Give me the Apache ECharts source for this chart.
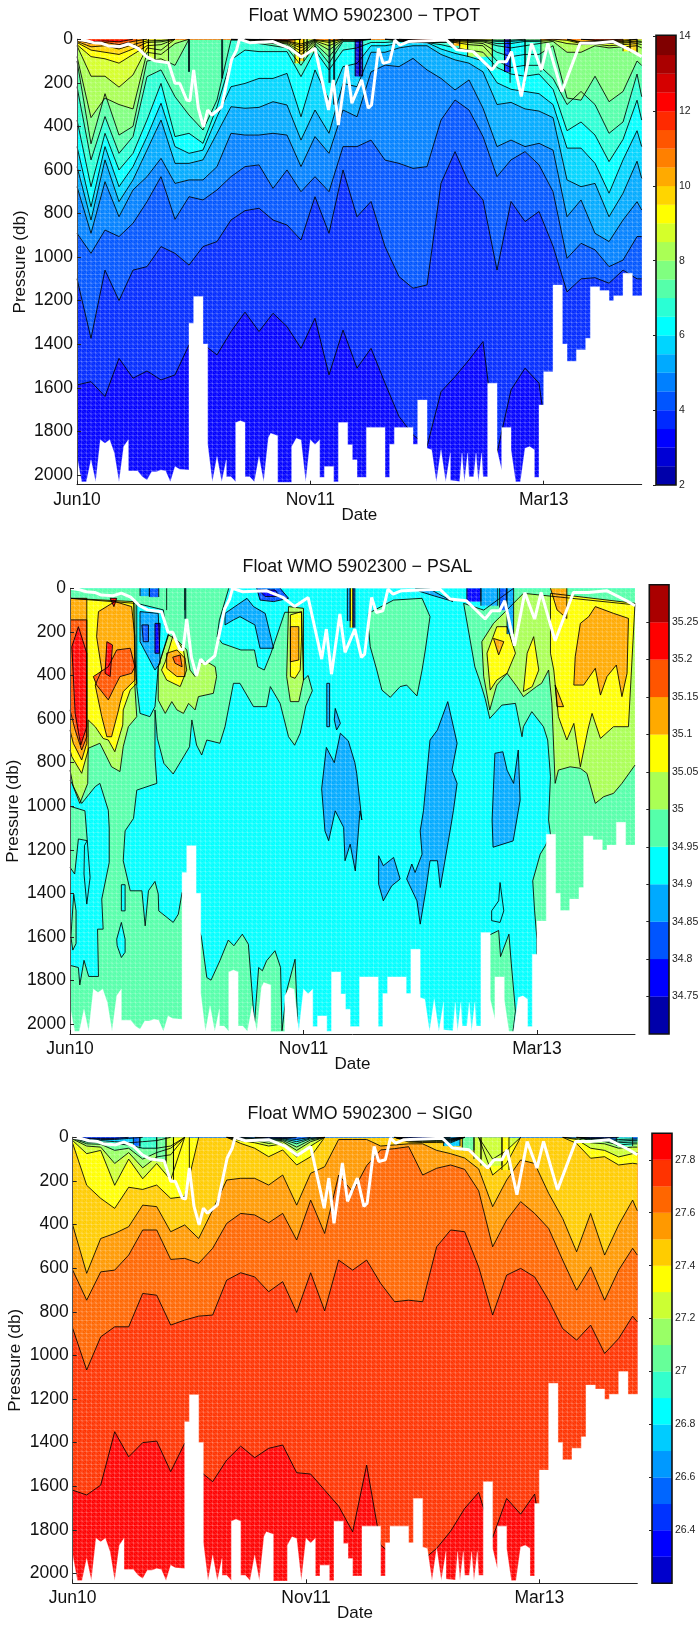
<!DOCTYPE html>
<html><head><meta charset="utf-8">
<style>html,body{margin:0;padding:0;background:#fff}#c{width:698px;height:1626px}</style>
<script src="https://cdn.jsdelivr.net/npm/echarts@6/dist/echarts.min.js"></script>
</head><body><div id="c"></div>
<script>
// ---------- shared data ----------
const xTickAt = [0, 50, 100];
const xTickLabels = ['Jun10', 'Nov11', 'Mar13'];
const yTicks = [0, 200, 400, 600, 800, 1000, 1200, 1400, 1600, 1800, 2000];
const profileGrid = [1,4,7,10,13,16,19,22,25,28,31,34,37,40,43,46,49,52,55,58,61,64,67,70,73,76,79,82,85,88,91,94,97,100,103,106,109,112,115,118,121,122];
const mldProfile = [1,3.1,4.5,6.3,7.7,10.2,12,14.1,15.9,17.6,20.6,22,23,24.5,25.2,26,27,28.1,29,29.9,32,34.1,35.2,35.8,38,43,46.6,49.1,52,54.9,55.9,57,58.8,59.9,62,63.4,64.1,65.6,66.6,68,69.1,70.2,72,80.2,82.4,85.9,89.9,91.3,93,94.1,96.2,98.4,100.5,101.9,104.9,108.8,112,115.9,120.2,122];
const mldPressure = [0,7,16,19,31,34,22,42,80,99,108,202,202,279,283,141,317,402,325,348,310,95,49,0,16,11,42,83,42,325,187,394,118,294,187,317,302,42,111,103,4,27,11,4,49,57,141,103,103,57,263,19,141,19,241,19,19,11,57,80];
const bottomEdge = [1,1916,2,2032,3,2032,4,1931,5,2032,6,1839,7,1855,8,1839,9,1900,10,2032,11,1870,12,1839,12,1982,14,1982,15,2008,16,2023,17,1985,18,1985,19,1977,20,1982,21,2032,22,1962,23,1974,25,1977,25,1304,26,1304,26,1181,28,1181,28,1399,29,1399,29,1858,30,2032,31,1916,32,2032,33,1931,33,2008,34,2008,35,2032,35,1760,36,1751,37,1760,37,2008,38,2008,39,2032,40,1916,41,2032,42,1830,42.5,1809,44,1820,44,2034,47,2034,47,1870,48,1832,49,1840,50,2032,51,1839,52,1860,53,1839,53,2011,54,2011,54,1962,56,1962,56,2032,57,2032,57,1760,59,1760,59,1862,60,1862,60,1931,61,1931,61,2011,63,2011,63,1783,67,1783,67,2011,68,2011,68,1859,69,1859,69,1783,73,1783,73,1859,74,1859,74,1656,76,1656,76,1878,77,1885,78,2032,79,1885,80,2032,81,1900,81,2025,83,2030,83.5,1900,84,2032,84.7,1900,85,2008,86,2008,86.5,1900,87,2032,87.7,1900,88,2008,89,2008,89,1579,91,1579,91,1885,92,1977,92,1783,94,1783,94,1885,95,2032,96,2032,97,1878,98,1870,99,1885,99,2011,100,2011,100,1679,101,1679,101,1526,103,1526,103,1128,105,1128,105,1399,106,1399,106,1478,108,1478,108,1426,110,1426,110,1373,111,1373,111,1136,113,1136,113,1154,115,1154,115,1201,116,1201,116,1178,118,1178,118,1074,120,1074,120,1178,122,1178];

// ---------- TPOT ----------
const tpotColors = ['#0000AA','#0000D5','#0000FF','#002AFF','#0055FF','#0080FF','#00AAFF','#00D5FF','#00FFFF','#2AFFD5','#55FFAA','#80FF80','#AAFF55','#D5FF2A','#FFFF00','#FFD500','#FFAA00','#FF8000','#FF5500','#FF2A00','#FF0000','#D50000','#AA0000','#800000'];
const tpotBarTicks = [2,4,6,8,10,12,14];
const tpot35 = [1587,1572,1640,1465,1556,1523,1564,1541,1403,1400,1449,1342,1253,1342,1258,1319,1419,1281,1541,1335,1510,1419,1579,1732,1816,1870,1618,1549,1472,1388,1900,1610,1510,1579,2045,2045,2045,2045,2045,2045,2045,2045];
const tpot40 = [1100,1373,1060,1200,1060,1044,952,983,1037,952,929,830,787,776,830,853,922,723,891,600,815,745,952,1090,1143,1128,661,516,661,738,1060,745,837,791,950,1160,1100,1095,1120,1060,1100,1100];
const tpot45 = [891,983,876,906,845,746,631,827,723,738,692,631,585,577,685,600,700,631,700,493,493,463,555,570,593,585,371,279,325,447,631,554,516,577,700,1006,937,967,1044,1014,906,906];
const tpot50 = [677,891,654,815,692,631,547,662,646,646,585,432,440,440,432,440,585,447,524,325,356,150,119,126,88,141,180,233,187,317,493,463,493,478,509,815,738,891,929,830,746,784];
const tpot55 = [585,830,554,746,646,509,371,570,570,554,432,310,317,313,287,302,463,325,432,203,218,60,60,40,30,30,70,95,110,150,300,290,320,330,360,646,677,662,815,707,560,639];
const tpot60 = [493,769,493,677,585,447,294,493,524,509,356,218,203,180,180,157,356,141,279,126,111,30,30,20,15,15,45,65,80,100,200,230,240,250,300,500,500,570,707,554,420,493];
const tpot65 = [371,677,432,600,524,371,203,447,432,478,310,95,50,57,57,57,172,50,141,50,40,15,15,10,14,16,25,40,50,60,130,160,170,160,230,420,380,440,562,460,280,371];
const tpot70 = [218,554,355,524,447,172,141,264,348,417,279,4,5,20,30,40,120,30,110,10,10,0,0,8,13,15,15,15,25,30,100,130,120,120,180,300,240,300,432,380,160,264];
const tpot75 = [100,480,250,440,400,100,90,120,0,0,0,0,3,12,20,30,90,20,80,5,5,0,0,6,11,13,13,10,15,20,60,80,70,70,30,270,280,170,287,240,100,120];
const tpot80 = [80,360,270,300,320,60,70,20,0,0,0,0,2,8,15,22,70,12,50,3,3,0,0,4,10,12,12,6,10,12,30,40,30,20,10,60,60,30,40,35,30,40];
const tpot85 = [30,170,170,220,164,40,50,0,0,0,0,0,1,5,12,18,55,8,30,2,2,0,0,3,9,11,11,4,6,8,20,20,10,10,5,20,25,22,30,25,20,25];
const tpot90 = [25,80,90,110,70,30,25,0,0,0,0,0,0,4,9,14,40,5,15,0,0,0,0,2,8,10,10,2,4,5,10,10,5,5,0,5,20,16,20,18,12,15];
const tpot95 = [15,50,60,70,45,15,12,0,0,0,0,0,0,3,7,10,30,3,8,0,0,0,0,1,7,9,9,1,2,3,5,5,0,0,0,0,16,13,16,14,8,10];
const tpot100 = [10,35,30,45,25,8,6,0,0,0,0,0,0,2,6,8,22,0,0,0,0,0,0,0,6,8,8,0,0,0,0,0,0,0,0,0,12,10,12,10,0,0];
const tpot110 = [5,20,15,25,10,0,0,0,0,0,0,0,0,1,4,6,0,0,0,0,0,0,0,0,4,6,5,0,0,0,0,0,0,0,0,0,0,6,7,5,0,0];
const tpot120 = [0,12,8,12,0,0,0,0,0,0,0,0,0,0,2,3,0,0,0,0,0,0,0,0,2,3,2,0,0,0,0,0,0,0,0,0,0,3,3,0,0,0];
const tpotStripes = [[13.8,15.2,45,16],[15.2,16.3,60,14],[16.3,17.7,90,13],[17.7,20.6,100,12],[24.9,25.1,150,8],[32,32.2,180,8],[47.7,48.7,110,14],[48.7,49.6,100,15],[49.6,50.3,80,13],[50.3,52,60,12],[55,55.2,200,6],[56,56.2,300,6],[60.6,61.6,170,1],[61.6,62.2,170,0],[81.6,83,30,16],[83,84.7,45,14],[84.7,90,80,12],[90,92.6,140,9],[92.6,93.8,150,3],[93.8,97,200,8],[97,100.4,150,9],[118,119.5,55,14],[119.5,121,60,15],[121,122,70,12]];

// ---------- SIG0 ----------
const sigColors = ['#0000CC','#0000FF','#0033FF','#0066FF','#0099FF','#00CCFF','#00FFFF','#33FFCC','#66FF99','#99FF66','#CCFF33','#FFFF00','#FFCC00','#FF9900','#FF6600','#FF3300','#FF0000'];
const sigBarTicks = [26.4,26.6,26.8,27,27.2,27.4,27.6,27.8];
const sig78 = [1618,1640,1595,1350,1465,1400,1393,1533,1403,1526,1579,1480,1416,1469,1426,1411,1538,1544,1618,1691,1809,1503,1870,1923,1939,1939,1885,1806,1702,1628,1835,1656,1728,1636,2045,2045,2045,2045,2045,2045,2045,2045];
const sig77 = [876,1067,915,869,869,716,724,861,838,820,815,655,621,640,708,662,803,621,796,563,609,563,670,754,747,754,502,425,433,594,815,632,601,640,747,877,930,861,991,923,820,846];
const sig76 = [609,747,617,609,540,425,425,560,555,578,509,395,349,356,392,349,471,288,441,173,250,130,58,52,43,173,142,127,147,245,502,379,295,349,418,563,701,594,747,609,509,540];
const sig75 = [402,624,464,441,410,311,318,433,402,464,334,196,188,188,219,173,311,165,135,10,10,10,40,35,30,30,60,75,95,145,318,196,104,120,257,372,525,349,540,402,288,337];
const sig74 = [28,220,280,326,229,239,219,280,272,0,0,0,28,50,89,58,127,89,0,0,0,0,0,0,22,24,24,25,0,0,173,119,0,0,0,0,28,96,89,127,119,122];
const sig73 = [15,75,60,220,100,190,120,195,0,0,0,0,15,25,40,30,90,40,0,0,0,0,0,0,18,20,20,20,0,0,100,60,0,0,0,0,10,50,60,90,75,70];
const sig72 = [8,40,45,120,70,140,90,80,0,0,0,0,8,15,28,20,60,20,0,0,0,0,0,0,15,16,16,16,0,0,0,0,0,0,0,0,5,25,30,50,45,45];
const sig71 = [5,30,32,60,50,100,70,50,0,0,0,0,5,10,18,14,45,12,0,0,0,0,0,0,12,13,13,13,0,0,0,0,0,0,0,0,0,15,20,35,30,30];
const sig70 = [3,22,24,30,35,50,50,40,0,0,0,0,3,6,12,10,30,6,0,0,0,0,0,0,10,10,10,10,0,0,0,0,0,0,0,0,0,10,14,25,22,22];
const sig68 = [1,15,15,20,25,20,15,0,0,0,0,0,0,3,8,6,20,3,0,0,0,0,0,0,7,8,7,7,0,0,0,0,0,0,0,0,0,6,8,18,14,14];
const sig66 = [0,8,10,10,5,0,0,0,0,0,0,0,0,0,4,4,10,0,0,0,0,0,0,0,4,5,4,4,0,0,0,0,0,0,0,0,0,4,5,10,8,8];
const sig64 = [0,5,5,5,0,0,0,0,0,0,0,0,0,0,2,2,0,0,0,0,0,0,0,0,2,3,2,0,0,0,0,0,0,0,0,0,0,2,2,0,0,0];
const sigStripes = [[14,15.4,40,3],[15.4,19,50,7],[19,21,110,8],[21,22.6,150,10],[22.6,26,200,11],[80.5,84,40,5],[84.5,87,60,8],[87,88.5,100,10],[88.5,93,130,10],[93,94.5,150,11],[117.5,121,40,7]];

// ---------- PSAL ----------
const psalColors = ['#0000AA','#0000FF','#0055FF','#00AAFF','#00FFFF','#55FFAA','#AAFF55','#FFFF00','#FFAA00','#FF5500','#FF0000','#AA0000'];
const psalBarTicks = [34.75,34.8,34.85,34.9,34.95,35,35.05,35.1,35.15,35.2,35.25];
const psalGreenMain = [1,0,35,0,33,145,32.5,222,33.6,253,37.6,283,40.5,283,41.2,360,42.6,375,44,300,47,110,50.6,110,51,421,52,400,52.9,470,51.5,540,50.3,665,49.1,720,47.8,681,46,528,43.9,451,43.1,543,40.3,543,37.4,436,36,436,34.2,635,33.1,711,30.3,696,29.2,765,28.1,719,27.1,604,26.6,727,24.9,788,23.1,852,21.1,803,19.7,688,19.2,558,19.2,773,19.6,895,15.3,926,14.6,1056,12.8,1113,12.4,1250,13.9,1388,16.4,1388,17.1,1549,17.8,1388,19.2,1345,19.9,1403,20,1480,23.1,1533,24.2,1495,25,1396,29.1,1595,30.3,1786,31.2,1798,33.1,1709,34.9,1614,36.1,1640,37.9,1587,39.2,1633,40.3,1939,40.5,2000,41.4,1740,42.2,1755,43.1,1709,44.9,1663,46.1,1740,46.4,2030,47.4,1847,49.2,1702,49.7,1969,49.7,2045,1,2045,1,1730,2.8,1740,3.1,1820,4,1707,5,1781,7.1,1781,6.9,1564,8.1,1564,7.8,1426,9.4,1258,9.4,1100,9.2,1018,7.4,895,6.4,910,3.5,987,1.4,895,1,880];
const psalGreenLobe = [64.9,115,70.3,54,76.4,46,78.1,130,77.1,283,76.4,375,75.3,494,73.1,444,71.7,451,69.6,500,67.8,467,66.7,375,65.3,268,64.9,176];
const psalGreenRight = [85.3,69,89.6,100,96,0,122,0,122,2045,101,2045,101,1610,100.5,1480,100.1,1342,101.7,1220,102.8,1181,103.9,1131,103.5,1063,103.9,864,103.3,696,102.4,635,99.9,566,98.1,635,97.8,681,96.4,528,93.5,536,90.9,597,89.9,505,88.7,421,87.7,360];
const psalGreenLow = [90,1600,92.8,1570,93.2,1690,95,1587,95.5,1720,96.4,1940,95.8,2045,90,2045];
const psalGreenWest = [1,1000,4.2,1021,4.7,1158,2.8,1150,2,1311,1,1280];
const psalGreenLens = [1.4,1530,1.8,1404,2.3,1480,2.3,1630,1.6,1660,1.2,1600];
const psalCyanHole1 = [4.7,1158,5.3,1327,4.6,1449,4,1311,4.1,1180];
const psalCyanHole2 = [11,1610,12,1533,12.8,1610,12.8,1670,12,1694,11.1,1640];
const psalCyanHole3 = [12,1360,12.8,1360,12.8,1480,12,1480];
const psalCyanHole4 = [93.1,1350,93.9,1480,93.1,1533,91.3,1525,91.3,1480,92.8,1434];
const psalCyanBlob = [15.3,69,21,99,21.4,176,22.1,207,19.9,360,19.2,543,18.1,589,16,574,15.3,451];
const psalBlueTop = [16,107,19.9,115,20.3,344,19.2,375,16,245];
const psalBlueTopCore = [16.4,168,17.8,168,17.8,245,16.7,245];
const psalNavyTopCore = [19.2,161,20.3,161,20.1,298,19.2,298];
const psalBlueMid = [34.2,115,38.9,46,40.3,84,42.8,115,44.6,275,41.7,275,40.6,168,37.4,130,36,145,34.2,168];
const psalBlueCap = [41,0,46,0,47.8,46,44.6,61,41.7,54];
const psalNavyCap = [41.4,8,44.9,8,46,38,42.8,38];
const psalDeep1 = [81.9,520,83.9,711,82.8,834,83.9,895,83.1,1021,82.4,1113,80.3,1373,79.7,1250,78.1,1250,77.3,1373,76,1541,75.3,1434,73.1,1334,74.2,1265,74.9,1304,76.4,1220,76,1113,76.7,1021,78.1,696,79.7,650];
const psalDeep2 = [92,757,93.7,750,94.6,834,96,895,97,742,97.4,972,95.9,1159,91.6,1188,91.4,1063];
const psalDeep3 = [54.9,920,55.9,730,57.6,800,58.9,665,60.6,700,62,800,62.4,849,63.5,1063,63.1,1021,62.1,1297,61,1174,59.9,1250,59.6,1097,57.8,1021,56.4,1158,55.6,1113];
const psalDeep4 = [67.1,1227,68.1,1273,70.3,1235,71.7,1334,69.9,1365,68.1,1434,67.1,1357];
const psalDeep5 = [57.8,551,58.9,620,58.1,650,57.6,604];
const psalDeep6 = [56,436,56.6,436,56.6,635,56,635];
const psalCapEast = [75,3,78,3,82,50,83,60,79,35,76,15];
const psalWarmLeft = [1,46,14.9,69,14.9,451,15.3,589,13.5,635,12.4,727,11.7,841,9.9,819,7.4,711,4.9,734,4.8,895,3.1,987,1.7,910,1,834];
const psalWarmMid = [19.9,360,22.1,214,23.9,237,26,283,26.7,375,27.8,405,28.9,344,30.3,337,32.1,360,32.4,405,31.7,482,28.5,497,27.8,558,26.4,528,25.3,574,23.9,558,22.8,520,21.4,574,19.9,513];
const psalWarmCol = [47.8,84,51,92,51,421,50,520,48.2,520,47.4,405];
const psalWarmRight = [89.2,245,91.7,161,94.6,99,98.1,23,122,76,122,811,119.2,895,117.4,941,115.3,956,113.5,987,111.7,849,110.3,826,108.1,819,105.6,834,104.9,895,104.2,528,103.5,375,102,436,100.9,451,98.1,497,96.7,451,94.6,390,92.4,444,90.9,558,89.6,405];
const psalYellowLeft = [1,46,14.6,61,14.9,314,15.3,436,13.9,467,12.4,558,12.3,627,10.6,750,9.2,696,8.1,689,6.4,635,4.9,604,4.9,742,3.5,849,1.4,773,1,742];
const psalYellowMid = [21.4,337,23.1,214,25.3,283,26,375,24.6,451,21.7,421,20.6,375];
const psalYellowCol = [48.2,122,50.6,107,50.6,222,50.3,375,49.2,413,48.2,405];
const psalYellowA = [90.3,298,92.4,176,94.6,176,96.4,298,94.6,390,92.4,421,91,467];
const psalYellowB = [98.9,298,100.3,222,101.4,375,100,451,98.1,474];
const psalYellowC = [103.9,23,122,69,120.6,635,117.4,635,114.6,689,112.8,574,111.9,650,110.3,819,108.9,620,107.4,696,105.6,589,104.6,375,103.9,298];
const psalOrangeA = [1,46,4.6,46,4.6,711,3.5,788,1.7,711,1,650];
const psalOrangeB = [7.1,107,10.6,61,14.2,84,14.9,222,14.9,421,12.4,474,11.7,528,11.4,558,9.9,681,8.9,681,7.8,589,6.4,444,7.8,375,6.7,222];
const psalOrangeMid = [21.7,298,23.9,283,25.6,321,25.6,405,23.9,405,21.7,367];
const psalOrangeCol = [48.2,176,50,176,50,329,48.2,337];
const psalOrangeTop = [103.9,0,107.4,0,107.4,138,105.3,99];
const psalOrangeEast = [113.5,84,117.4,115,120.6,138,120.3,390,119.2,497,118,352,116,405,114.6,490,113.5,367,111,444,108.9,444,109.2,314,110.3,161,112.1,130];
const psalOrangeSmall1 = [104.9,444,106.7,543,105.3,543];
const psalOrangeSmall2 = [91.7,230,93.9,245,92.8,306];
const psalHotA = [1,145,4.6,145,4.6,681,3.5,742,2.1,650,1,558];
const psalHotB = [6,405,9.2,360,11,283,13.9,275,14.9,360,14.2,390,11.7,405,10.6,451,9.2,512,6.7,444];
const psalHotMid = [23,316,24.6,306,25,360,23.5,344];
const psalRedSpine = [2.8,176,4.6,298,4.6,528,4.6,635,3.3,719,2.1,574,1.4,268];
const psalRedCore = [8.9,245,10.1,260,9.6,405,8.5,390];
const psalRedTop = [9.6,46,11,46,10.4,84];
const psalRingList = [[5,psalGreenMain],[5,psalGreenLobe],[5,psalGreenRight],[5,psalGreenLow],[5,psalGreenWest],[5,psalGreenLens],
 [4,psalCyanHole1],[4,psalCyanHole2],[4,psalCyanHole3],[4,psalCyanHole4],[4,psalCyanBlob],
 [3,psalBlueTop],[2,psalBlueTopCore],[1,psalNavyTopCore],[3,psalBlueMid],[2,psalBlueCap],[1,psalNavyCap],[3,psalDeep1],[3,psalDeep2],[3,psalDeep3],[3,psalDeep4],[3,psalDeep5],[3,psalDeep6],[3,psalCapEast],
 [6,psalWarmLeft],[6,psalWarmMid],[6,psalWarmCol],[6,psalWarmRight],
 [7,psalYellowLeft],[7,psalYellowMid],[7,psalYellowCol],[7,psalYellowA],[7,psalYellowB],[7,psalYellowC],
 [8,psalOrangeA],[8,psalOrangeB],[8,psalOrangeMid],[8,psalOrangeCol],[8,psalOrangeTop],[8,psalOrangeEast],[8,psalOrangeSmall1],[8,psalOrangeSmall2],
 [9,psalHotA],[9,psalHotB],[9,psalHotMid],[10,psalRedSpine],[10,psalRedCore],[10,psalRedTop]];
const psalStripes = [[18,20,40,2],[16,18,35,3],[21.7,25.6,100,5],[25.6,25.8,140,4],[60.4,61,150,3],[61,61.6,180,7],[61.6,62,180,2],[86,89,60,1],[89,92.6,80,3],[93,94.5,100,2],[94.6,96,210,3]];

// ---------- helpers ----------
const MAXP = 2045;
function isoRing(iso){ const r=[]; iso.forEach((d,i)=>r.push(profileGrid[i],d)); r.push(122,0,1,0); return r; }
function isoLine(iso){ const r=[]; iso.forEach((d,i)=>r.push(profileGrid[i],d)); return r; }
const onFrame=(p,d)=>p<=1||p>=122||d<=0||d>=MAXP;
function contourPts(flat,closed,out){
  const n=flat.length/2;
  for(let i=0;i<(closed?n:n-1);i++){
    const j=(i+1)%n, p0=flat[2*i],d0=flat[2*i+1],p1=flat[2*j],d1=flat[2*j+1];
    if(onFrame(p0,d0)&&onFrame(p1,d1)){continue;}
    out.push([p0-1,d0],[p1-1,d1],[NaN,NaN]);
  }
}
function fillSeries(gi,rings,colors,z){
  return {type:'custom',xAxisIndex:gi,yAxisIndex:gi,z,clip:true,silent:true,animation:false,
    data:rings.map((r,i)=>[i,0]),
    renderItem(params,api){
      const r=rings[api.value(0)], pts=[];
      for(let i=0;i<r.flat.length;i+=2) pts.push(api.coord([r.flat[i]-1,r.flat[i+1]]));
      return {type:'polygon',shape:{points:pts},style:{fill:colors[r.idx],stroke:colors[r.idx],lineWidth:0.3}};
    }};
}
function meshSeries(gi){
  return {type:'custom',xAxisIndex:gi,yAxisIndex:gi,z:3,clip:true,silent:true,animation:false,data:[[0,0]],
    renderItem(params,api){
      const kids=[];
      const seg=(a,b,o)=>{const A=api.coord(a),B=api.coord(b);kids.push({type:'line',shape:{x1:A[0],y1:A[1],x2:B[0],y2:B[1]},style:{stroke:'rgba(255,255,255,'+o+')',lineWidth:0.8}});};
      for(let x=0;x<=121;x++) seg([x,0],[x,MAXP],0.26);
      for(let y=0;y<=MAXP;y+=20) seg([0,y],[121,y],0.26);
      for(let k=-102;k<=121;k++) seg([k,0],[k+103,2060],0.17);
      return {type:'group',children:kids};
    }};
}
function maskSeries(gi){
  const flat=bottomEdge.concat([122.4,1178,122.4,MAXP+3,1,MAXP+3]);
  return {type:'custom',xAxisIndex:gi,yAxisIndex:gi,z:5,clip:false,silent:true,animation:false,data:[[0,0]],
    renderItem(params,api){
      const pts=[];for(let i=0;i<flat.length;i+=2) pts.push(api.coord([flat[i]-1,flat[i+1]]));
      return {type:'polygon',shape:{points:pts},style:{fill:'#fff',stroke:'#fff',lineWidth:0.3}};
    }};
}

// ---------- layout ----------
const panels=[
 {title:'Float WMO 5902300 \u2212 TPOT',titleUp:37,l:77,r:641.7,t:39.2,b:484.7,cl:656,cr:676,ct:35.3,cb:485,yGap:48.5,colors:tpotColors,lo:2,hi:14.03,step:0.5,ticks:tpotBarTicks,base:2,
  iso:[[3,tpot35],[4,tpot40],[5,tpot45],[6,tpot50],[7,tpot55],[8,tpot60],[9,tpot65],[10,tpot70],[11,tpot75],[12,tpot80],[13,tpot85],[14,tpot90],[15,tpot95],[16,tpot100],[18,tpot110],[20,tpot120]],stripes:tpotStripes},
 {title:'Float WMO 5902300 \u2212 PSAL',titleUp:35,l:70,r:635,t:588.3,b:1034,cl:649.3,cr:669,ct:584.7,cb:1034,yGap:48,colors:psalColors,lo:34.7,hi:35.3,step:0.05,ticks:psalBarTicks,base:4,
  rings:psalRingList,stripes:psalStripes},
 {title:'Float WMO 5902300 \u2212 SIG0',titleUp:37,l:72.7,r:637.3,t:1137.3,b:1583.3,cl:652,cr:672,ct:1133.3,cb:1583.3,yGap:48.7,colors:sigColors,lo:26.2,hi:27.9,step:0.1,ticks:sigBarTicks,base:16,
  iso:[[15,sig78],[14,sig77],[13,sig76],[12,sig75],[11,sig74],[10,sig73],[9,sig72],[8,sig71],[7,sig70],[5,sig68],[3,sig66],[1,sig64]],stripes:sigStripes}
];
const W=698,H=1626,FONT='"Liberation Sans",Arial,sans-serif';
const grid=[],xAxis=[],yAxis=[],series=[],title=[];
panels.forEach((P,n)=>{
  const gi=grid.length;
  grid.push({left:P.l,width:P.r-P.l,top:P.t,height:P.b-P.t,containLabel:false,outerBoundsMode:'none'});
  xAxis.push({gridIndex:gi,type:'value',min:0,max:121,z:10,
    name:'Date',nameLocation:'middle',nameGap:22,nameMoveOverlap:false,nameTextStyle:{fontSize:17,color:'#111',fontFamily:FONT},
    axisLine:{show:true,onZero:false,lineStyle:{color:'#222',width:1}},
    axisTick:{show:true,inside:true,length:4,customValues:xTickAt,lineStyle:{color:'#222'}},
    axisLabel:{show:true,fontSize:17.5,color:'#111',fontFamily:FONT,margin:6,customValues:xTickAt,formatter:v=>xTickLabels[xTickAt.indexOf(v)]||''},
    splitLine:{show:false}});
  yAxis.push({gridIndex:gi,type:'value',inverse:true,min:0,max:MAXP,z:10,
    name:'Pressure (db)',nameLocation:'middle',nameGap:P.yGap,nameMoveOverlap:false,nameRotate:90,nameTextStyle:{fontSize:17,color:'#111',fontFamily:FONT},
    axisLine:{show:true,onZero:false,lineStyle:{color:'#555',width:1}},
    axisTick:{show:true,inside:true,length:4,customValues:yTicks,lineStyle:{color:'#222'}},
    axisLabel:{show:true,fontSize:17.5,color:'#111',fontFamily:FONT,margin:4,customValues:yTicks,formatter:v=>String(v)},
    splitLine:{show:false}});
  title.push({text:P.title,left:(P.l+P.r)/2,top:P.t-P.titleUp,textAlign:'center',textStyle:{fontSize:17.8,fontWeight:'normal',color:'#111',fontFamily:FONT}});
  const rings=[{idx:P.base,flat:[1,0,122,0,122,MAXP,1,MAXP]}];
  const lines=[];
  (P.iso||[]).forEach(([idx,a])=>{rings.push({idx,flat:isoRing(a)});contourPts(isoLine(a),false,lines);});
  (P.rings||[]).forEach(([idx,a])=>{rings.push({idx,flat:a});contourPts(a,true,lines);});
  P.stripes.forEach(([p0,p1,d,idx])=>{const f=[p0,0,p1,0,p1,d,p0,d];rings.push({idx,flat:f});contourPts([p0,0,p0,d],false,lines);contourPts([p1,0,p1,d],false,lines);});
  series.push(fillSeries(gi,rings,P.colors,2));
  series.push(meshSeries(gi));
  series.push({type:'line',xAxisIndex:gi,yAxisIndex:gi,z:4,symbol:'none',silent:true,animation:false,connectNulls:false,clip:true,data:lines,lineStyle:{color:'#000',width:1,opacity:0.85}});
  series.push(maskSeries(gi));
  series.push({type:'line',xAxisIndex:gi,yAxisIndex:gi,z:6,symbol:'none',silent:true,animation:false,clip:false,
    data:mldProfile.map((p,i)=>[p-1,mldPressure[i]]),lineStyle:{color:'#fff',width:3}});
  const cg=grid.length;
  grid.push({left:P.cl,width:P.cr-P.cl,top:P.ct,height:P.cb-P.ct,outerBoundsMode:'none'});
  xAxis.push({gridIndex:cg,type:'value',min:0,max:1,show:false});
  yAxis.push({gridIndex:cg,type:'value',min:P.lo,max:P.hi,position:'right',z:10,
    axisLine:{show:false},splitLine:{show:false},
    axisTick:{show:true,inside:true,length:3,customValues:P.ticks,lineStyle:{color:'#222'}},
    axisLabel:{show:true,fontSize:10.5,color:'#222',fontFamily:FONT,margin:3,customValues:P.ticks,formatter:v=>String(+v.toFixed(2))}});
  series.push({type:'custom',xAxisIndex:cg,yAxisIndex:cg,z:2,silent:true,animation:false,clip:true,
    data:P.colors.map((c,i)=>[i,0]),
    renderItem(params,api){
      const i=api.value(0);
      const a=api.coord([0,P.lo+i*P.step]), b=api.coord([1,Math.min(P.lo+(i+1)*P.step+(i===P.colors.length-1?1:0),P.hi)]);
      return {type:'rect',shape:{x:a[0],y:b[1],width:b[0]-a[0],height:a[1]-b[1]},style:{fill:P.colors[i],stroke:P.colors[i],lineWidth:0.2}};
    }});
  series.push({type:'custom',xAxisIndex:cg,yAxisIndex:cg,z:3,silent:true,animation:false,clip:false,data:[[0,0]],
    renderItem(params,api){
      const a=api.coord([0,P.lo]), b=api.coord([1,P.hi]);
      return {type:'rect',shape:{x:a[0],y:b[1],width:b[0]-a[0],height:a[1]-b[1]},style:{fill:'none',stroke:'#111',lineWidth:1.6}};
    }});
});
const chart=echarts.init(document.getElementById('c'),null,{renderer:'canvas',width:W,height:H});
chart.setOption({animation:false,backgroundColor:'#fff',title,grid,xAxis,yAxis,series});
</script></body></html>
